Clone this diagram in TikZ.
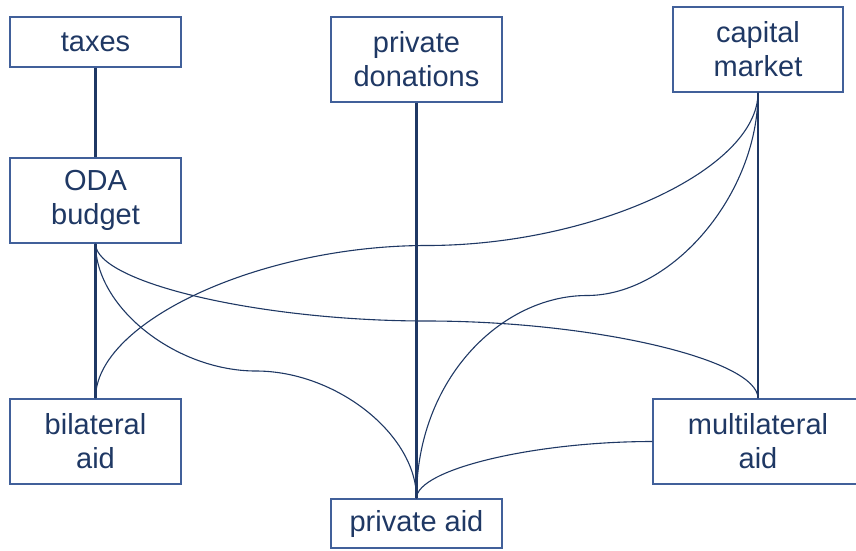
\documentclass[tikz,border=0pt]{standalone}
\usepackage{fontspec}
\setmainfont{Liberation Sans}
\definecolor{navy}{HTML}{1F3864}
\definecolor{frame}{HTML}{41609A}

\begin{document}
\begin{tikzpicture}[x=1pt,y=-1pt,main node/.style={rectangle,draw=frame,line width=1.3pt,text=navy,align=center,inner sep=0pt,font=\fontsize{29}{34}\selectfont},flow/.style={draw=navy,line width=2.1pt},curve/.style={draw=navy,line width=1.1pt}]

			\useasboundingbox (0,0) rectangle (856,550);

			\node[main node,minimum width=171pt,minimum height=50pt] (taxes) at (95.5,42) {taxes};
			\node[main node,minimum width=171pt,minimum height=85pt] (oda) at (95.5,200.5) {ODA\\budget};
			\node[main node,minimum width=171pt,minimum height=85pt] (bil) at (95.5,441.5) {bilateral\\aid};
			\node[main node,minimum width=171pt,minimum height=85pt] (don) at (416.5,59.5) {private\\donations};
			\node[main node,minimum width=171pt,minimum height=49pt] (pa) at (416.5,523.5) {private aid};
			\node[main node,minimum width=170pt,minimum height=85pt] (cap) at (758,49.5) {capital\\market};
			\node[main node,minimum width=210pt,minimum height=85pt] (multi) at (758,441.5) {multilateral\\aid};

			\coordinate (m1) at (426.75,245.5);
			\coordinate (m2) at (426.75,321);
			\coordinate (m3) at (256,371);
			\coordinate (m4) at (587,295.5);

			\draw[flow] (taxes) -- (oda);
			\draw[flow] (oda) -- (bil);
			\draw[flow] (don) -- (pa);
			\draw[flow] (cap) -- (multi);

			\draw[curve] (bil.north) .. controls +(0,-77) and +(-166,0) .. (m1) .. controls +(166,0) and +(0,77) .. (cap.south);
			\draw[curve] (oda.south) .. controls +(0,39) and +(-166,0) .. (m2) .. controls +(166,0) and +(0,-39) .. (multi.north);
			\draw[curve] (oda.south) .. controls +(0,64) and +(-80,0) .. (m3) .. controls +(80,0) and +(0,-64) .. (pa.north);
			\draw[curve] (pa.north) .. controls +(0,-120) and +(-85,0) .. (m4) .. controls +(85,0) and +(0,102) .. (cap.south);
			\draw[curve] (pa.north) .. controls +(0,-29) and +(-118,0) .. (multi.west);
			\end{tikzpicture}
\end{document}
